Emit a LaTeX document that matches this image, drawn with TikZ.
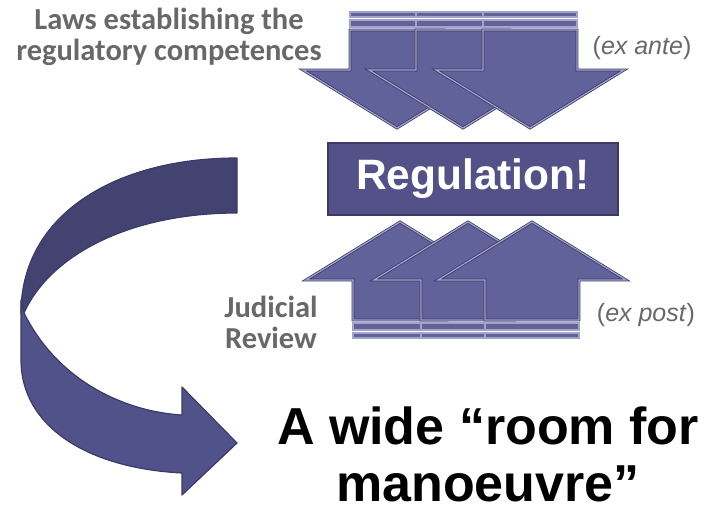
\documentclass[tikz,border=0pt]{standalone}
\usepackage{fontspec}
\setmainfont{Liberation Sans}
\setsansfont{Liberation Sans}
\newfontfamily\notefont{Carlito}
\usepackage{tikz}
\usetikzlibrary{positioning}
\usepackage{xcolor}
\definecolor{Slate}{HTML}{62629B}
\definecolor{SlateDark}{HTML}{3B3A68}
\definecolor{SlateLight}{HTML}{A3A3CB}
\definecolor{SlateBox}{HTML}{535187}
\definecolor{RibbonBack}{HTML}{434372}
\definecolor{RibbonFront}{HTML}{52528A}
\definecolor{TextGrey}{HTML}{686868}
\tikzset{
  arrowbody/.style={fill=Slate,draw=SlateDark,line width=0.8pt,double=SlateLight,double distance=1.2pt,line join=miter},
  regbox/.style={draw=SlateDark,fill=SlateBox,line width=2pt,minimum width=290pt,minimum height=72pt,inner sep=0pt,text=white,font=\sffamily\bfseries\fontsize{42.5}{50}\selectfont},
  ribbonback/.style={fill=RibbonBack,draw=SlateDark,line width=1.2pt,line join=round},
  ribbonfront/.style={fill=RibbonFront,draw=SlateDark,line width=1.2pt,line join=round},
  greynote/.style={align=center,inner sep=0pt,text=TextGrey,font=\notefont\bfseries\fontsize{30.5}{31}\selectfont},
  exnote/.style={inner sep=0pt,text=TextGrey,font=\sffamily\fontsize{25}{30}\selectfont},
  bigtext/.style={align=center,inner sep=0pt,font=\sffamily\bfseries\fontsize{52}{57}\selectfont},
  lawarrow/.pic={
    \path[arrowbody] (-47,0) -- (47,0) -- (47,40) -- (94,40) -- (0,98) -- (-94,40) -- (-47,40) -- cycle;
    \path[arrowbody] (-47,-10) rectangle (47,-3);
    \path[arrowbody] (-47,-18) rectangle (47,-13);
  }
}
\begin{document}
\begin{tikzpicture}[x=1pt,y=-1pt]
\useasboundingbox (0,0) rectangle (712,513);
\pic (down1) at (397,30) {lawarrow};
\pic (down2) at (463,30) {lawarrow};
\pic (down3) at (530,30) {lawarrow};
\pic[yscale=-1] (up1) at (400,320) {lawarrow};
\pic[yscale=-1] (up2) at (468,320) {lawarrow};
\pic[yscale=-1] (up3) at (532,320) {lawarrow};
\node[regbox] (reg) at (473,179) {Regulation!};
\draw[ribbonback] (237,158) -- (237,213) .. controls (130,213) and (50,255) .. (24,313)
  -- (21,313) .. controls (21,215) and (115,158) .. cycle;
\draw[ribbonfront] (24,313) .. controls (60,385) and (130,412) .. (182,415) -- (182,387) -- (237,443)
  -- (182,495) -- (182,473) .. controls (85,468) and (21,425) .. (21,360) -- (21,300) -- cycle;
\node[greynote] (laws) at (169,37) {Laws establishing the\\regulatory competences};
\node[greynote] (judicial) at (271,322) {Judicial\\Review};
\node[exnote] (exante) at (642,48) {(\textit{ex ante})};
\node[exnote] (expost) at (646,315) {(\textit{ex post})};
\node[bigtext] (room) at (488,454) {A wide “room for\\manoeuvre”};
\end{tikzpicture}
\end{document}
